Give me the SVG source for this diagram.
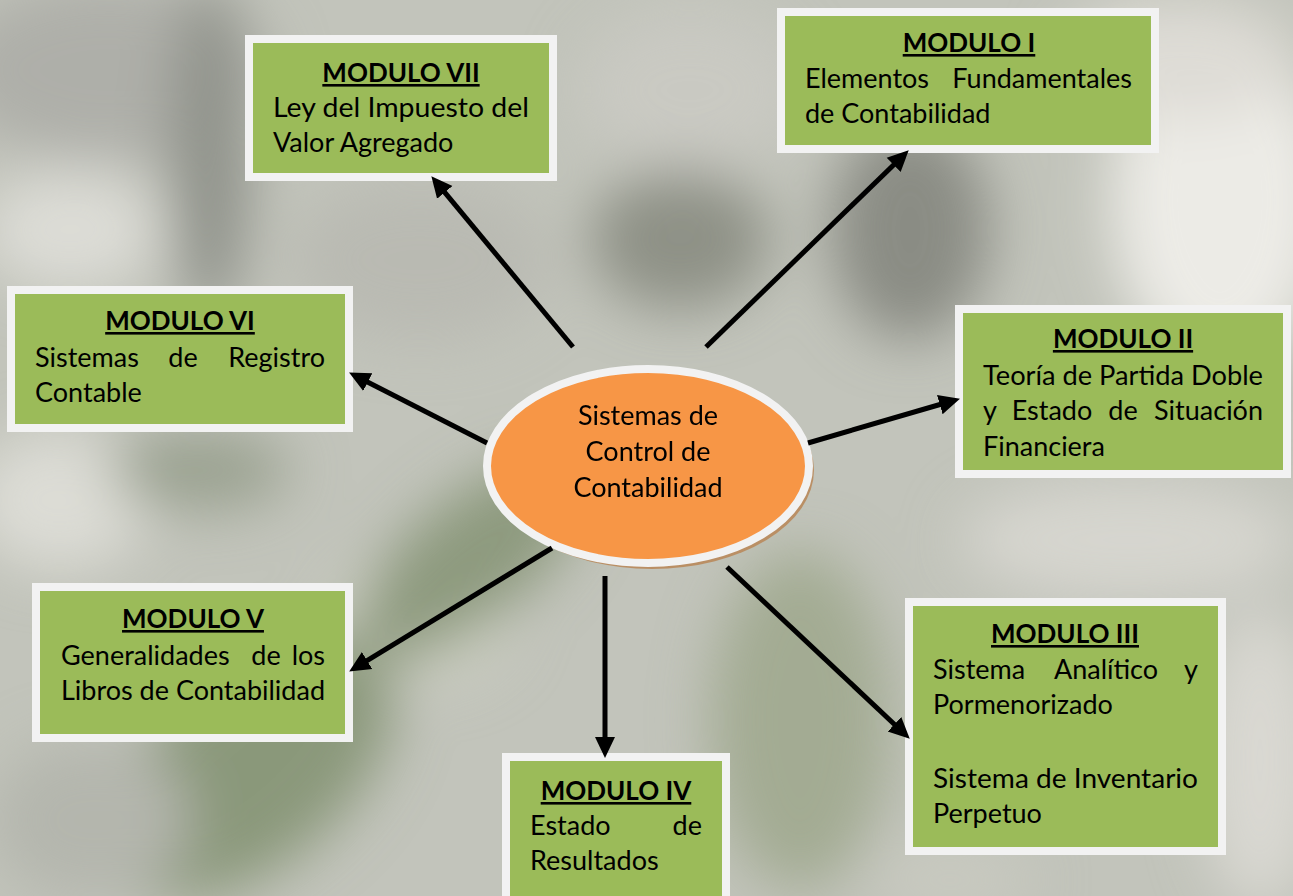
<svg xmlns="http://www.w3.org/2000/svg" width="1293" height="896" viewBox="0 0 1293 896">
  <defs>
    <style>
      .bx { fill: #9BBB59; stroke: #F2F2F2; stroke-width: 8; }
      .sh { fill: #7d8566; opacity: 0.75; }
      .t { font-family: Lato, "Open Sans", sans-serif; font-size: 27px; fill: #000; }
      .h { font-family: Lato, "Open Sans", sans-serif; font-size: 26px; font-weight: bold; fill: #000; text-anchor: middle; text-decoration: underline; }
      .e { text-anchor: end; }
      .m { text-anchor: middle; }
      .ln { stroke: #000; stroke-width: 5; fill: none; marker-end: url(#ah); }
    </style>
    <marker id="ah" markerUnits="userSpaceOnUse" markerWidth="24" markerHeight="22" refX="2" refY="10" orient="auto" viewBox="0 0 24 20">
      <path d="M0,0 L21,10 L0,20 Z" fill="#000"/>
    </marker>
    <filter id="blur" x="-10%" y="-10%" width="120%" height="120%">
      <feGaussianBlur stdDeviation="28"/>
    </filter>
  </defs>

  <!-- soft photographic backdrop -->
  <g id="backdrop">
    <rect width="1293" height="896" fill="#c2c4bb"/>
    <g filter="url(#blur)">
      <ellipse cx="110" cy="70" rx="160" ry="90" fill="#aeafa9"/>
      <ellipse cx="210" cy="150" rx="40" ry="170" fill="#8f928a"/>
      <ellipse cx="70" cy="230" rx="90" ry="60" fill="#dcdcd6"/>
      <ellipse cx="420" cy="260" rx="130" ry="80" fill="#b9bab2"/>
      <ellipse cx="690" cy="90" rx="110" ry="80" fill="#c9c9c2"/>
      <ellipse cx="680" cy="240" rx="90" ry="70" fill="#8e9186"/>
      <ellipse cx="910" cy="230" rx="80" ry="110" fill="#8a8c84"/>
      <ellipse cx="1220" cy="200" rx="110" ry="170" fill="#ecebe6"/>
      <ellipse cx="1180" cy="60" rx="120" ry="60" fill="#dedcd6"/>
      <ellipse cx="1130" cy="540" rx="170" ry="60" fill="#d6d5cf"/>
      <ellipse cx="60" cy="500" rx="90" ry="70" fill="#dcdcd5"/>
      <ellipse cx="200" cy="470" rx="90" ry="40" fill="#9aa190"/>
      <ellipse cx="420" cy="620" rx="90" ry="60" fill="#d2d4c7"/>
      <ellipse cx="250" cy="770" rx="170" ry="95" fill="#8a987a" transform="rotate(-40 250 770)"/>
      <ellipse cx="470" cy="560" rx="140" ry="60" fill="#8d9a7e" transform="rotate(-40 470 560)"/>
      <ellipse cx="90" cy="820" rx="100" ry="80" fill="#b4b6ad"/>
      <ellipse cx="800" cy="720" rx="90" ry="170" fill="#a3ab93"/>
      <ellipse cx="1260" cy="760" rx="60" ry="150" fill="#d9d8d2"/>
      <ellipse cx="950" cy="880" rx="80" ry="40" fill="#c8c9c0"/>
    </g>
  </g>

  <!-- modules -->
  <g id="modulo-vii">
    <rect class="sh" x="253" y="43" width="304" height="138"/>
    <rect class="bx" x="249" y="39" width="304" height="138"/>
    <text class="h" x="401" y="82">MODULO VII</text>
    <text class="t" x="273" y="117" textLength="256" lengthAdjust="spacingAndGlyphs">Ley del Impuesto del</text>
    <text class="t" x="273" y="152">Valor Agregado</text>
  </g>

  <g id="modulo-i">
    <rect class="sh" x="785" y="16" width="374" height="137"/>
    <rect class="bx" x="781" y="12" width="374" height="137"/>
    <text class="h" x="969" y="52">MODULO I</text>
    <text class="t" x="805" y="88">Elementos</text>
    <text class="t e" x="1132" y="88">Fundamentales</text>
    <text class="t" x="805" y="123">de Contabilidad</text>
  </g>

  <g id="modulo-vi">
    <rect class="sh" x="15" y="294" width="338" height="138"/>
    <rect class="bx" x="11" y="290" width="338" height="138"/>
    <text class="h" x="180" y="330">MODULO VI</text>
    <text class="t" x="35" y="367">Sistemas</text>
    <text class="t m" x="183" y="367">de</text>
    <text class="t e" x="325" y="367">Registro</text>
    <text class="t" x="35" y="402">Contable</text>
  </g>

  <g id="modulo-ii">
    <rect class="sh" x="963" y="313" width="328" height="165"/>
    <rect class="bx" x="959" y="309" width="328" height="165"/>
    <text class="h" x="1123" y="348">MODULO II</text>
    <text class="t" x="983" y="385" textLength="280" lengthAdjust="spacingAndGlyphs">Teoría de Partida Doble</text>
    <text class="t" x="983" y="420">y</text>
    <text class="t m" x="1052" y="420">Estado</text>
    <text class="t m" x="1123" y="420">de</text>
    <text class="t e" x="1263" y="420">Situación</text>
    <text class="t" x="983" y="456">Financiera</text>
  </g>

  <g id="modulo-v">
    <rect class="sh" x="40" y="591" width="313" height="151"/>
    <rect class="bx" x="36" y="587" width="313" height="151"/>
    <text class="h" x="193" y="628">MODULO V</text>
    <text class="t" x="61" y="665">Generalidades</text>
    <text class="t m" x="266" y="665">de</text>
    <text class="t e" x="325" y="665">los</text>
    <text class="t" x="61" y="700" textLength="264" lengthAdjust="spacingAndGlyphs">Libros de Contabilidad</text>
  </g>

  <g id="modulo-iv">
    <rect class="sh" x="510" y="761" width="220" height="150"/>
    <rect class="bx" x="506" y="757" width="220" height="150"/>
    <text class="h" x="616" y="800">MODULO IV</text>
    <text class="t" x="530" y="835">Estado</text>
    <text class="t e" x="702" y="835">de</text>
    <text class="t" x="530" y="870">Resultados</text>
  </g>

  <g id="modulo-iii">
    <rect class="sh" x="913" y="606" width="313" height="249"/>
    <rect class="bx" x="909" y="602" width="313" height="249"/>
    <text class="h" x="1065" y="643">MODULO III</text>
    <text class="t" x="933" y="679">Sistema</text>
    <text class="t m" x="1106" y="679">Analítico</text>
    <text class="t e" x="1198" y="679">y</text>
    <text class="t" x="933" y="714">Pormenorizado</text>
    <text class="t" x="933" y="788" textLength="265" lengthAdjust="spacingAndGlyphs">Sistema de Inventario</text>
    <text class="t" x="933" y="823">Perpetuo</text>
  </g>

  <!-- central topic -->
  <g id="centro">
    <ellipse cx="652" cy="470" rx="162" ry="99" fill="#b98a5c" opacity="0.9"/>
    <ellipse cx="648" cy="466" rx="161" ry="97" fill="#F79646" stroke="#F2F2F2" stroke-width="8"/>
    <text class="t m" x="648" y="425">Sistemas de</text>
    <text class="t m" x="648" y="461">Control de</text>
    <text class="t m" x="648" y="497">Contabilidad</text>
  </g>

  <!-- connectors from the central topic to each module -->
  <g id="connectors">
    <line class="ln" x1="573" y1="347" x2="443.5" y2="190.9"/>
    <line class="ln" x1="706" y1="347" x2="895.1" y2="163.5"/>
    <line class="ln" x1="487" y1="443" x2="366" y2="381.2"/>
    <line class="ln" x1="808" y1="443" x2="941.7" y2="404"/>
    <line class="ln" x1="552" y1="548" x2="365.4" y2="661.6"/>
    <line class="ln" x1="605" y1="576" x2="605" y2="739"/>
    <line class="ln" x1="727" y1="567" x2="895.9" y2="725.7"/>
  </g>
</svg>
